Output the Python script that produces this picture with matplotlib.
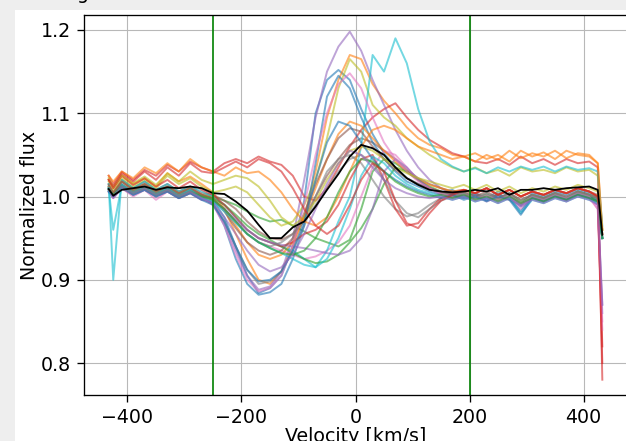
import matplotlib
matplotlib.use("Agg")
import matplotlib.pyplot as plt
from matplotlib.patches import Rectangle

# Velocity grid (km/s)
velocity = [-433, -425, -410, -390, -370, -350, -330, -310, -290, -270,
            -250, -230, -210, -190, -170, -150, -130, -110, -90, -70,
            -50, -30, -10, 10, 30, 50, 70, 90, 110, 130,
            150, 170, 190, 210, 230, 250, 270, 290, 310, 330,
            350, 370, 390, 410, 425, 433]

spec_00 = [1.012, 1.005, 1.018, 1.008, 1.015, 1.006, 1.012, 1.004, 1.010, 1.002,
           0.996, 0.975, 0.940, 0.905, 0.884, 0.890, 0.905, 0.940, 0.995, 1.100,
           1.140, 1.152, 1.140, 1.105, 1.075, 1.052, 1.035, 1.022, 1.015, 1.010,
           1.005, 1.008, 1.000, 1.004, 0.998, 1.006, 1.002, 0.990, 1.004, 1.000,
           1.006, 1.002, 1.008, 1.004, 1.000, 0.950]
spec_01 = [1.020, 1.010, 1.025, 1.015, 1.022, 1.012, 1.028, 1.018, 1.024, 1.015,
           1.005, 0.985, 0.955, 0.925, 0.900, 0.895, 0.910, 0.940, 0.975, 1.030,
           1.095, 1.140, 1.170, 1.165, 1.135, 1.115, 1.100, 1.083, 1.070, 1.062,
           1.058, 1.050, 1.048, 1.052, 1.045, 1.050, 1.042, 1.055, 1.048, 1.053,
           1.045, 1.055, 1.050, 1.048, 1.040, 0.960]
spec_02 = [1.008, 1.000, 1.012, 1.004, 1.010, 1.002, 1.008, 1.000, 1.006, 1.002,
           1.000, 0.995, 0.990, 0.982, 0.975, 0.970, 0.972, 0.965, 0.958, 0.950,
           0.945, 0.940, 0.948, 0.985, 1.030, 1.045, 1.040, 1.030, 1.020, 1.012,
           1.006, 1.002, 1.005, 0.998, 1.003, 0.996, 1.004, 0.992, 1.002, 0.998,
           1.004, 0.998, 1.006, 1.002, 0.998, 0.950]
spec_03 = [1.025, 1.015, 1.030, 1.020, 1.032, 1.025, 1.038, 1.030, 1.042, 1.035,
           1.030, 1.040, 1.045, 1.040, 1.048, 1.042, 1.038, 1.025, 1.000, 0.995,
           1.010, 1.035, 1.060, 1.080, 1.095, 1.105, 1.112, 1.095, 1.080, 1.068,
           1.060, 1.052, 1.048, 1.042, 1.040, 1.045, 1.038, 1.048, 1.040, 1.045,
           1.038, 1.045, 1.040, 1.042, 1.035, 0.780]
spec_04 = [1.010, 1.002, 1.015, 1.006, 1.012, 1.004, 1.010, 1.002, 1.008, 1.000,
           0.990, 0.968, 0.935, 0.905, 0.888, 0.892, 0.910, 0.950, 1.020, 1.095,
           1.150, 1.180, 1.198, 1.175, 1.140, 1.110, 1.080, 1.055, 1.035, 1.020,
           1.010, 1.004, 1.000, 1.004, 0.996, 1.002, 0.998, 0.988, 1.000, 0.996,
           1.002, 0.996, 1.004, 1.000, 0.990, 0.870]
spec_05 = [1.015, 1.005, 1.020, 1.010, 1.018, 1.008, 1.015, 1.006, 1.012, 1.004,
           1.002, 0.995, 0.985, 0.970, 0.958, 0.950, 0.948, 0.955, 0.975, 1.000,
           1.025, 1.045, 1.062, 1.070, 1.065, 1.055, 1.045, 1.032, 1.022, 1.015,
           1.010, 1.006, 1.008, 1.004, 1.010, 1.002, 1.008, 1.000, 1.006, 1.002,
           1.008, 1.004, 1.010, 1.006, 1.002, 0.955]
spec_06 = [1.005, 0.998, 1.010, 1.000, 1.008, 0.996, 1.006, 0.998, 1.004, 0.996,
           0.995, 0.985, 0.970, 0.955, 0.945, 0.940, 0.935, 0.930, 0.925, 0.928,
           0.935, 0.945, 0.965, 1.000, 1.035, 1.055, 1.050, 1.035, 1.020, 1.010,
           1.004, 1.000, 0.998, 1.002, 0.994, 1.000, 0.996, 0.985, 0.998, 0.994,
           1.000, 0.994, 1.002, 0.998, 0.985, 0.850]
spec_07 = [1.006, 1.000, 1.010, 1.002, 1.008, 1.000, 1.006, 0.998, 1.004, 0.998,
           0.992, 0.970, 0.940, 0.912, 0.895, 0.898, 0.910, 0.935, 0.965, 1.000,
           1.030, 1.045, 1.050, 1.040, 1.020, 1.000, 0.985, 0.976, 0.980, 0.990,
           0.998, 1.002, 1.000, 1.004, 0.998, 1.002, 0.996, 0.990, 1.000, 0.996,
           1.002, 0.998, 1.004, 1.000, 0.995, 0.950]
spec_08 = [1.018, 1.008, 1.022, 1.012, 1.020, 1.010, 1.025, 1.015, 1.022, 1.012,
           1.005, 1.008, 1.012, 1.005, 0.990, 0.975, 0.965, 0.970, 0.990, 1.020,
           1.070, 1.130, 1.165, 1.150, 1.110, 1.095, 1.085, 1.070, 1.060, 1.050,
           1.042, 1.035, 1.030, 1.035, 1.028, 1.032, 1.025, 1.035, 1.030, 1.032,
           1.028, 1.035, 1.030, 1.032, 1.025, 0.960]
spec_09 = [1.015, 0.900, 1.020, 1.010, 1.018, 1.008, 1.015, 1.006, 1.012, 1.006,
           1.000, 0.990, 0.975, 0.960, 0.950, 0.945, 0.940, 0.935, 0.925, 0.915,
           0.935, 0.970, 1.000, 1.060, 1.170, 1.150, 1.190, 1.160, 1.105, 1.066,
           1.045, 1.036, 1.030, 1.034, 1.028, 1.035, 1.030, 1.036, 1.032, 1.036,
           1.030, 1.036, 1.032, 1.034, 1.030, 0.965]
spec_10 = [1.008, 1.002, 1.014, 1.004, 1.010, 1.002, 1.008, 1.000, 1.006, 0.998,
           0.992, 0.965, 0.925, 0.895, 0.882, 0.885, 0.895, 0.925, 0.965, 1.040,
           1.120, 1.145, 1.130, 1.095, 1.065, 1.045, 1.030, 1.018, 1.012, 1.006,
           1.002, 1.005, 0.998, 1.002, 0.995, 1.003, 0.998, 0.982, 1.000, 0.996,
           1.002, 0.998, 1.004, 1.000, 0.996, 0.950]
spec_11 = [1.012, 1.004, 1.018, 1.008, 1.015, 1.006, 1.012, 1.004, 1.010, 1.002,
           0.998, 0.985, 0.965, 0.945, 0.930, 0.925, 0.930, 0.945, 0.975, 1.010,
           1.045, 1.075, 1.090, 1.085, 1.070, 1.055, 1.042, 1.030, 1.020, 1.014,
           1.010, 1.006, 1.008, 1.004, 1.010, 1.002, 1.008, 1.000, 1.006, 1.002,
           1.008, 1.004, 1.010, 1.006, 1.000, 0.955]
spec_12 = [1.010, 1.002, 1.014, 1.006, 1.012, 1.004, 1.010, 1.002, 1.008, 1.000,
           0.998, 0.990, 0.978, 0.965, 0.955, 0.948, 0.940, 0.932, 0.925, 0.920,
           0.922, 0.930, 0.945, 0.962, 0.985, 1.015, 1.035, 1.030, 1.020, 1.010,
           1.004, 1.000, 1.004, 0.998, 1.002, 0.996, 1.002, 0.994, 1.000, 0.996,
           1.002, 0.998, 1.004, 1.000, 0.994, 0.950]
spec_13 = [1.020, 1.010, 1.025, 1.014, 1.022, 1.012, 1.020, 1.010, 1.018, 1.008,
           1.002, 0.990, 0.975, 0.960, 0.950, 0.945, 0.940, 0.945, 0.955, 0.960,
           0.970, 0.990, 1.020, 1.045, 1.050, 1.020, 0.985, 0.965, 0.968, 0.985,
           0.998, 1.004, 1.008, 1.004, 1.010, 1.002, 1.008, 1.000, 1.006, 1.002,
           1.008, 1.004, 1.010, 1.006, 1.000, 0.820]
spec_14 = [1.006, 0.998, 1.010, 1.002, 1.008, 1.000, 1.006, 0.998, 1.004, 0.996,
           0.994, 0.985, 0.972, 0.960, 0.950, 0.945, 0.942, 0.940, 0.938, 0.935,
           0.932, 0.930, 0.935, 0.950, 0.985, 1.030, 1.045, 1.035, 1.020, 1.010,
           1.002, 0.998, 1.002, 0.996, 1.000, 0.994, 1.000, 0.990, 0.998, 0.994,
           1.000, 0.996, 1.002, 0.998, 0.990, 0.860]
spec_15 = [1.014, 1.004, 1.018, 1.008, 1.015, 1.006, 1.012, 1.004, 1.010, 1.002,
           0.998, 0.982, 0.962, 0.945, 0.935, 0.930, 0.935, 0.950, 0.980, 1.015,
           1.045, 1.070, 1.082, 1.078, 1.060, 1.045, 1.032, 1.022, 1.015, 1.010,
           1.006, 1.002, 1.006, 1.000, 1.006, 0.998, 1.004, 0.996, 1.002, 0.998,
           1.004, 1.000, 1.006, 1.002, 0.998, 0.955]
spec_16 = [1.008, 1.000, 1.012, 1.004, 1.010, 1.002, 1.008, 1.000, 1.006, 0.998,
           0.990, 0.965, 0.930, 0.900, 0.886, 0.890, 0.905, 0.940, 0.990, 1.050,
           1.100, 1.135, 1.148, 1.130, 1.095, 1.065, 1.045, 1.030, 1.018, 1.010,
           1.004, 1.000, 1.004, 0.998, 1.002, 0.996, 1.002, 0.992, 1.000, 0.996,
           1.002, 0.998, 1.004, 1.000, 0.985, 0.840]
spec_17 = [1.010, 1.002, 1.014, 1.006, 1.012, 1.004, 1.010, 1.002, 1.008, 1.000,
           0.996, 0.985, 0.970, 0.955, 0.945, 0.940, 0.945, 0.955, 0.970, 0.990,
           1.010, 1.030, 1.045, 1.050, 1.040, 1.020, 0.995, 0.980, 0.975, 0.985,
           0.995, 1.000, 1.004, 0.998, 1.004, 0.998, 1.004, 0.996, 1.002, 0.998,
           1.004, 1.000, 1.006, 1.002, 0.998, 0.950]
spec_18 = [1.022, 1.012, 1.026, 1.016, 1.024, 1.014, 1.028, 1.018, 1.030, 1.020,
           1.015, 1.020, 1.025, 1.022, 1.012, 0.995, 0.975, 0.965, 0.975, 0.995,
           1.020, 1.040, 1.055, 1.060, 1.055, 1.045, 1.035, 1.028, 1.022, 1.018,
           1.014, 1.010, 1.014, 1.008, 1.014, 1.006, 1.012, 1.004, 1.010, 1.006,
           1.012, 1.008, 1.014, 1.010, 1.006, 0.960]
spec_19 = [1.010, 0.960, 1.014, 1.004, 1.012, 1.002, 1.010, 1.000, 1.008, 0.998,
           0.994, 0.982, 0.968, 0.955, 0.945, 0.938, 0.932, 0.925, 0.918, 0.915,
           0.925, 0.950, 0.985, 1.025, 1.048, 1.040, 1.025, 1.015, 1.008, 1.004,
           1.000, 0.996, 1.000, 0.994, 0.998, 0.992, 0.998, 0.980, 0.996, 0.992,
           0.998, 0.994, 1.000, 0.996, 0.992, 0.950]
spec_20 = [1.006, 1.000, 1.012, 1.002, 1.008, 1.000, 1.006, 0.998, 1.004, 0.996,
           0.990, 0.970, 0.940, 0.912, 0.898, 0.900, 0.910, 0.935, 0.970, 1.020,
           1.065, 1.090, 1.085, 1.065, 1.045, 1.030, 1.020, 1.012, 1.006, 1.002,
           0.998, 1.002, 0.996, 1.000, 0.994, 1.000, 0.996, 0.978, 0.998, 0.994,
           1.000, 0.996, 1.002, 0.998, 0.994, 0.950]
spec_21 = [1.025, 1.018, 1.030, 1.022, 1.035, 1.028, 1.040, 1.030, 1.045, 1.035,
           1.030, 1.025, 1.035, 1.028, 1.030, 1.020, 1.005, 0.985, 0.970, 0.965,
           0.975, 1.000, 1.030, 1.060, 1.080, 1.085, 1.080, 1.070, 1.060, 1.055,
           1.050, 1.045, 1.048, 1.042, 1.050, 1.044, 1.055, 1.046, 1.052, 1.048,
           1.055, 1.046, 1.052, 1.050, 1.040, 0.960]
spec_22 = [1.008, 1.002, 1.012, 1.004, 1.010, 1.002, 1.008, 1.000, 1.006, 1.000,
           0.996, 0.985, 0.970, 0.955, 0.945, 0.938, 0.932, 0.930, 0.935, 0.950,
           0.975, 1.005, 1.030, 1.045, 1.042, 1.030, 1.018, 1.010, 1.004, 1.000,
           1.002, 0.998, 1.002, 0.996, 1.000, 0.994, 1.000, 0.992, 0.998, 0.994,
           1.000, 0.996, 1.002, 0.998, 0.994, 0.950]
spec_23 = [1.020, 1.012, 1.028, 1.018, 1.030, 1.020, 1.035, 1.025, 1.040, 1.030,
           1.028, 1.035, 1.042, 1.035, 1.045, 1.040, 1.030, 1.010, 0.985, 0.965,
           0.955, 0.965, 0.990, 1.020, 1.040, 1.030, 0.995, 0.968, 0.962, 0.980,
           0.995, 1.002, 1.008, 1.004, 1.010, 1.002, 1.008, 1.000, 1.006, 1.002,
           1.008, 1.004, 1.010, 1.006, 1.000, 0.800]
spec_24 = [1.008, 1.000, 1.012, 1.004, 1.010, 1.002, 1.008, 1.000, 1.006, 0.998,
           0.992, 0.975, 0.955, 0.935, 0.918, 0.910, 0.915, 0.930, 0.955, 0.985,
           1.015, 1.040, 1.055, 1.050, 1.035, 1.020, 1.010, 1.004, 1.000, 0.998,
           1.000, 0.996, 1.000, 0.994, 0.998, 0.992, 0.998, 0.988, 0.996, 0.992,
           0.998, 0.994, 1.000, 0.996, 0.990, 0.870]

mean_flux = [1.009, 1.001, 1.008, 1.010, 1.012, 1.008, 1.011, 1.010, 1.012, 1.010,
             1.004, 1.003, 0.994, 0.983, 0.966, 0.950, 0.950, 0.963, 0.970, 0.988,
             1.008, 1.027, 1.048, 1.062, 1.058, 1.050, 1.035, 1.022, 1.014, 1.008,
             1.006, 1.005, 1.006, 1.008, 1.006, 1.010, 1.002, 1.008, 1.008, 1.010,
             1.008, 1.010, 1.011, 1.012, 1.008, 0.954]

line_marks = [-250, 200]

spectra = [spec_00, spec_01, spec_02, spec_03, spec_04, spec_05, spec_06, spec_07,
           spec_08, spec_09, spec_10, spec_11, spec_12, spec_13, spec_14, spec_15,
           spec_16, spec_17, spec_18, spec_19, spec_20, spec_21, spec_22, spec_23,
           spec_24]

S = 1.37
plt.rcParams.update({
    "font.family": ["DejaVu Sans"],
    "font.size": 10 * S,
    "axes.linewidth": 0.95,
    "xtick.major.width": 0.95,
    "ytick.major.width": 0.95,
    "xtick.major.size": 3.5 * S,
    "ytick.major.size": 3.5 * S,
    "xtick.major.pad": 3.5 * S,
    "ytick.major.pad": 3.5 * S,
    "grid.linewidth": 0.8,
    "grid.color": "#b8b8b8",
})

W, H = 626, 441
fig = plt.figure(figsize=(W / 100, H / 100), dpi=100, facecolor="#eeeeee")
fig.patches.append(Rectangle((15 / W, 0), 1 - 15 / W, (H - 10) / H,
                             transform=fig.transFigure, facecolor="white",
                             edgecolor="none", zorder=-10))
fig.text(83 / W, 1 + 1.5 / H, "g", ha="center", va="baseline", fontsize=10 * S)

ax = fig.add_axes([84 / W, 1 - 395 / H, 543 / W, 380 / H], zorder=5)
colors = plt.rcParams["axes.prop_cycle"].by_key()["color"]
for i, s in enumerate(spectra):
    ax.plot(velocity, s, color=colors[i % 10], alpha=0.6, lw=1.4)
ax.plot(velocity, mean_flux, color="black", lw=1.3)
for x in line_marks:
    ax.axvline(x, color="green", lw=1.2)

ax.grid(True)
ax.set_xlim(-476.3, 476.3)
ax.set_ylim(0.7616, 1.218)
ax.set_xticks([-400, -200, 0, 200, 400])
ax.set_yticks([0.8, 0.9, 1.0, 1.1, 1.2])
ax.set_xlabel("Velocity [km/s]", labelpad=0)
ax.set_ylabel("Normalized flux", labelpad=1)

fig.savefig("out.png", dpi=100, facecolor=fig.get_facecolor())
